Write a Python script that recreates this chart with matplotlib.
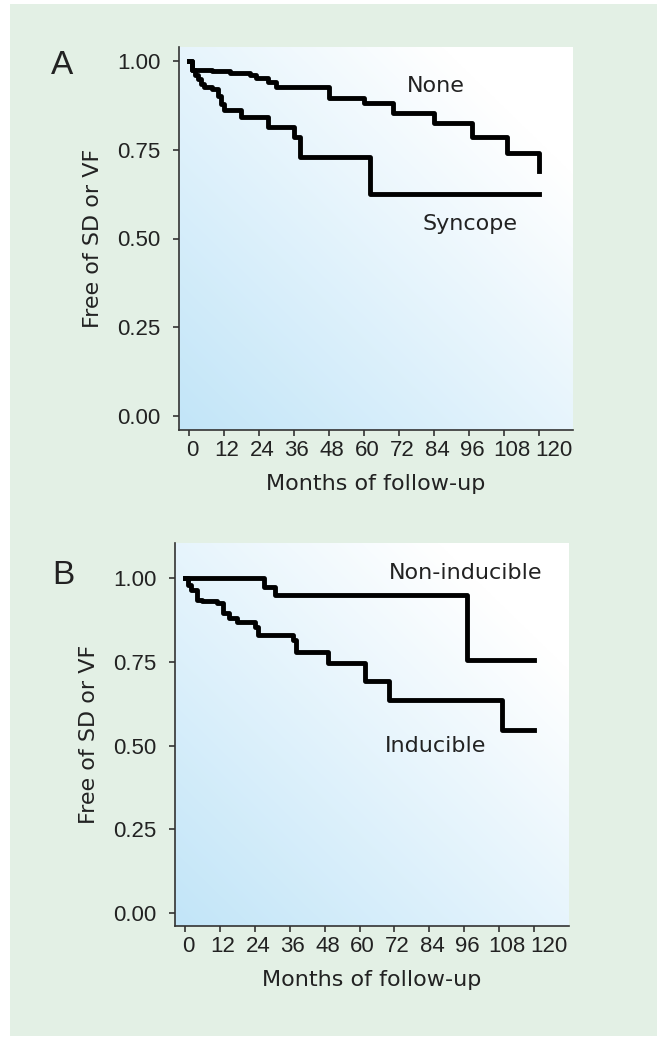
import numpy as np
import matplotlib
matplotlib.use('Agg')
import matplotlib.pyplot as plt
import matplotlib.transforms as mtransforms
from matplotlib.patches import Rectangle

##################### survival data (months, fraction free) #####################
a_none_t = [0, 1, 8, 14, 21, 23, 27, 30, 48, 60, 70, 84, 97, 109, 120, 120]
a_none_s = [1.0, 0.975, 0.972, 0.966, 0.961, 0.952, 0.941, 0.927, 0.895, 0.882, 0.854, 0.825, 0.786, 0.741, 0.69, 0.69]

a_sync_t = [0, 1, 2, 3, 4, 5, 8, 10, 11, 12, 18, 27, 36, 38, 62, 120]
a_sync_s = [1.0, 0.975, 0.96, 0.95, 0.935, 0.927, 0.92, 0.9, 0.88, 0.862, 0.842, 0.814, 0.786, 0.73, 0.625, 0.625]

b_noni_t = [0, 27, 31, 97, 120]
b_noni_s = [1.0, 0.973, 0.949, 0.755, 0.755]

b_ind_t = [0, 1, 2, 4, 6, 11, 13, 15, 18, 24, 25, 37, 38, 49, 62, 70, 109, 120]
b_ind_s = [1.0, 0.98, 0.964, 0.935, 0.93, 0.925, 0.896, 0.881, 0.869, 0.854, 0.83, 0.815, 0.779, 0.745, 0.693, 0.636, 0.546, 0.546]

x_ticks = [0, 12, 24, 36, 48, 60, 72, 84, 96, 108, 120]
y_ticks = [0.0, 0.25, 0.5, 0.75, 1.0]
y_ticklabels = ['0.00', '0.25', '0.50', '0.75', '1.00']

##################### colours / fonts #####################
plt.rcParams['font.family'] = ['Liberation Sans', 'DejaVu Sans']
green_bg = '#e3f0e5'
blue = np.array([194, 229, 248]) / 255.0
spine_col = '#333333'
txt_col = '#222222'
lab_font = 'DejaVu Sans'

fig = plt.figure(figsize=(6.57, 10.40), dpi=100)
fig.patch.set_facecolor('white')
fig.patches.append(Rectangle((10 / 657, 0.004), 1 - 10 / 657, 1 - 0.008, transform=fig.transFigure,
                             facecolor=green_bg, edgecolor='none', zorder=-10))


def gradient(ax):
    xl = ax.get_xlim()
    yl = ax.get_ylim()
    u = np.linspace(0, 1, 300)
    v = np.linspace(1, 0, 300)
    U, V = np.meshgrid(u, v)
    t = np.clip((U + V) / 2 * 1.2, 0, 1)[..., None]
    img = blue * (1 - t) + np.ones(3) * t
    ax.imshow(img, extent=[xl[0], xl[1], yl[0], yl[1]], aspect='auto', zorder=0, interpolation='bilinear')
    ax.set_xlim(xl)
    ax.set_ylim(yl)


def style_panel(ax, xlim, ylim):
    ax.set_xlim(*xlim)
    ax.set_ylim(*ylim)
    gradient(ax)
    for s in ['top', 'right']:
        ax.spines[s].set_visible(False)
    for s in ['left', 'bottom']:
        ax.spines[s].set_color(spine_col)
        ax.spines[s].set_linewidth(1.2)
    ax.set_facecolor('none')
    ax.set_xticks(x_ticks)
    ax.set_yticks(y_ticks)
    ax.set_yticklabels(y_ticklabels)
    ax.tick_params(axis='both', direction='out', length=4.5, width=1.2, color=spine_col,
                   labelsize=16, labelcolor=txt_col)
    ax.tick_params(axis='y', pad=9)
    ax.tick_params(axis='x', pad=3)
    # the original nudges the tick numbers right, the three-digit ones more
    shifts = {108: 8, 120: 15}
    for val, lb in zip(x_ticks, ax.get_xticklabels()):
        dx = shifts.get(val, 3)
        lb.set_transform(lb.get_transform() + mtransforms.ScaledTranslation(dx / 100, 0, fig.dpi_scale_trans))
    ax.set_xlabel('Months of follow-up', fontsize=16, family=lab_font, color=txt_col, labelpad=9)
    ax.set_ylabel('Free of SD or VF', fontsize=16, family=lab_font, color=txt_col, labelpad=10)


def km(ax, t, s):
    ax.plot(t, s, drawstyle='steps-post', color='black', lw=3.5, zorder=3, solid_joinstyle='round')


##################### Panel A #####################
axA = fig.add_axes([179 / 657, 1 - 430 / 1040, 394 / 657, 383 / 1040])
style_panel(axA, (-3.43, 131.7), (-0.0394, 1.0394))
km(axA, a_none_t, a_none_s)
km(axA, a_sync_t, a_sync_s)
axA.text(84.5, 0.93, 'None', fontsize=16, family=lab_font, color=txt_col, ha='center', va='center')
axA.text(96.5, 0.542, 'Syncope', fontsize=16, family=lab_font, color=txt_col, ha='center', va='center')
fig.text(62 / 657, 1 - 66 / 1040, 'A', fontsize=24, color=txt_col, ha='center', va='center')

##################### Panel B #####################
axB = fig.add_axes([175 / 657, 1 - 926 / 1040, 394 / 657, 383 / 1040])
style_panel(axB, (-3.44, 132.0), (-0.0388, 1.1045))
km(axB, b_noni_t, b_noni_s)
km(axB, b_ind_t, b_ind_s)
axB.text(96.5, 1.016, 'Non-inducible', fontsize=16, family=lab_font, color=txt_col, ha='center', va='center')
axB.text(86.3, 0.5, 'Inducible', fontsize=16, family=lab_font, color=txt_col, ha='center', va='center')
fig.text(63 / 657, 1 - 575 / 1040, 'B', fontsize=24, color=txt_col, ha='center', va='center')

plt.savefig('out.png', dpi=100, facecolor=fig.get_facecolor())
